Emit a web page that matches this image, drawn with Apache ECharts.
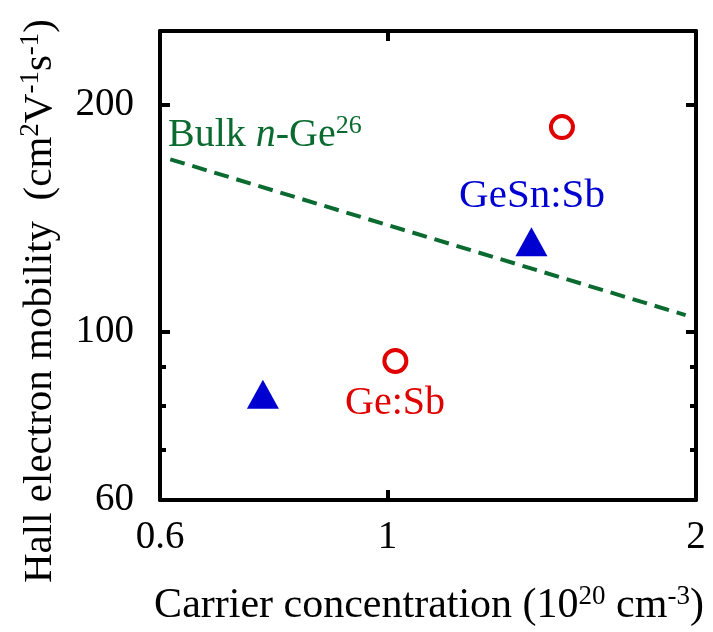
<!DOCTYPE html>
<html><head><meta charset="utf-8">
<script src="https://cdn.jsdelivr.net/npm/echarts@6/dist/echarts.min.js"></script>
<style>html,body{margin:0;padding:0;background:#fff}#c{width:713px;height:632px}</style>
</head><body><div id="c"></div>
<script>
// Data
const geSbX = [1.018, 1.48];
const geSbY = [91.6, 186.6];
const geSnSbX = [0.756, 1.382];
const geSnSbY = [82.8, 131.7];
const bulkX = [0.614, 1.954];
const bulkY = [169.2, 105.3];
const xTickLabels = [0.6, 1, 2];
const xMajorTicks = [1];
const yTickLabels = [60, 100, 200];
const yMajorTicks = [100, 200];
const yMinorTicks = [70, 80, 90];

const FONT = "'Liberation Serif','Times New Roman',serif";
const RED = '#e00000', BLUE = '#0000d0', GREEN = '#0b6a30';
const zip = (a, b) => a.map((v, i) => [v, b[i]]);
const fmt = v => String(Math.round(v * 100) / 100);

function xAx(pos, showLabel) {
  return {
    type: 'log', position: pos, min: 0.6, max: 2,
    axisLine: { onZero: false, lineStyle: { color: '#000', width: 4 } },
    axisTick: { inside: true, length: 10, customValues: xMajorTicks, lineStyle: { color: '#000', width: 4 } },
    axisLabel: showLabel ? { customValues: xTickLabels, formatter: fmt, fontSize: 39, fontFamily: FONT, color: '#000', margin: 18 } : { show: false },
    splitLine: { show: false }, minorTick: { show: false }
  };
}
function yAx(pos, ticks, len, showLabel, showLine) {
  return {
    type: 'log', position: pos, min: 60, max: 250,
    axisLine: { show: showLine, onZero: false, lineStyle: { color: '#000', width: 4 } },
    axisTick: { inside: true, length: len, customValues: ticks, lineStyle: { color: '#000', width: 4 } },
    axisLabel: showLabel ? { customValues: yTickLabels, formatter: fmt, fontSize: 39, fontFamily: FONT, color: '#000', margin: 26 } : { show: false },
    splitLine: { show: false }, minorTick: { show: false }
  };
}

const chart = echarts.init(document.getElementById('c'));
chart.setOption({
  animation: false,
  backgroundColor: '#fff',
  grid: { left: 160, right: 17, top: 31, bottom: 132 },
  xAxis: [xAx('bottom', true), xAx('top', false)],
  yAxis: [
    yAx('left', yMajorTicks, 10, true, true),
    yAx('left', yMinorTicks, 6, false, false),
    yAx('right', yMajorTicks, 10, false, true),
    yAx('right', yMinorTicks, 6, false, false)
  ],
  series: [
    { name: 'Bulk n-Ge', type: 'line', data: zip(bulkX, bulkY), showSymbol: false, symbol: 'none',
      lineStyle: { color: GREEN, width: 4, type: [15, 8] }, z: 2 },
    { name: 'GeSn:Sb', type: 'scatter', data: zip(geSnSbX, geSnSbY), symbol: 'triangle', symbolSize: [32, 29],
      itemStyle: { color: BLUE, opacity: 1 }, z: 3 },
    { name: 'Ge:Sb', type: 'scatter', data: zip(geSbX, geSbY), symbol: 'circle', symbolSize: 22,
      itemStyle: { color: '#fff', borderColor: RED, borderWidth: 4, opacity: 1 }, z: 3 }
  ],
  graphic: [
    { type: 'text', x: 168, y: 135, style: {
        text: '{n|Bulk }{i|n}{n|-Ge}{s|26}', verticalAlign: 'middle', align: 'left',
        rich: {
          n: { fontSize: 40, fontFamily: FONT, fill: GREEN, lineHeight: 44 },
          i: { fontSize: 40, fontFamily: FONT, fontStyle: 'italic', fill: GREEN, lineHeight: 44 },
          s: { fontSize: 26, fontFamily: FONT, fill: GREEN, lineHeight: 44, verticalAlign: 'top' }
        } } },
    { type: 'text', x: 532, y: 196, style: { text: 'GeSn:Sb', fontSize: 41, fontFamily: FONT, fill: BLUE, align: 'center', verticalAlign: 'middle' } },
    { type: 'text', x: 395, y: 403, style: { text: 'Ge:Sb', fontSize: 40, fontFamily: FONT, fill: RED, align: 'center', verticalAlign: 'middle' } },
    { type: 'text', x: 429, y: 606, style: {
        text: '{n|Carrier concentration (10}{s|20}{n| cm}{s|-3}{n|)}', align: 'center', verticalAlign: 'middle',
        rich: {
          n: { fontSize: 42, fontFamily: FONT, fill: '#000', lineHeight: 46 },
          s: { fontSize: 27, fontFamily: FONT, fill: '#000', lineHeight: 46, verticalAlign: 'top' }
        } } },
    { type: 'text', x: 40, y: 301, rotation: Math.PI / 2, style: {
        text: '{n|Hall electron mobility  (cm}{s|2}{n|V}{s|-1}{n|s}{s|-1}{n|)}', align: 'center', verticalAlign: 'middle',
        rich: {
          n: { fontSize: 41, fontFamily: FONT, fill: '#000', lineHeight: 46 },
          s: { fontSize: 27, fontFamily: FONT, fill: '#000', lineHeight: 46, verticalAlign: 'top' }
        } } }
  ]
});
</script></body></html>
